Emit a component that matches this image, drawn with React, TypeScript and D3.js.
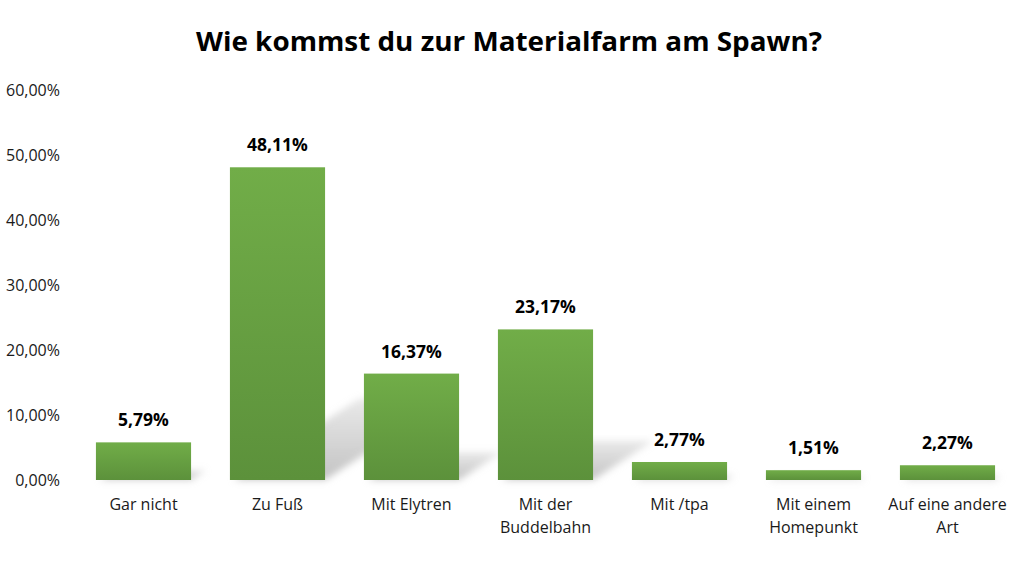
import React from "react";
import * as d3 from "d3";

const categories: string[][] = [
  ["Gar nicht"],
  ["Zu Fuß"],
  ["Mit Elytren"],
  ["Mit der", "Buddelbahn"],
  ["Mit /tpa"],
  ["Mit einem", "Homepunkt"],
  ["Auf eine andere", "Art"],
];
const values: number[] = [5.79, 48.11, 16.37, 23.17, 2.77, 1.51, 2.27];
const yTicks: number[] = [0, 10, 20, 30, 40, 50, 60];
const title = "Wie kommst du zur Materialfarm am Spawn?";

const W = 1016;
const H = 568;
const FONT = "'Open Sans', 'Noto Sans', sans-serif";

const fmt = (v: number) => v.toFixed(2).replace(".", ",") + "%";

export default function App() {
  const keys = categories.map((c) => c.join(" "));
  const x = d3
    .scaleBand<string>()
    .domain(keys)
    .range([76.5, 1014.5])
    .paddingInner(0.29)
    .paddingOuter(0.145);
  const y = d3.scaleLinear().domain([0, 60]).range([480, 90]);
  const bw = x.bandwidth();
  const base = y(0);

  return (
    <svg
      width={W}
      height={H}
      style={{ position: "absolute", left: 0, top: 0, background: "#fff" }}
      fontFamily={FONT}
    >
      <defs>
        <linearGradient id="barGrad" x1="0" y1="0" x2="0" y2="1">
          <stop offset="0%" stopColor="#71ad48" />
          <stop offset="100%" stopColor="#5c913b" />
        </linearGradient>
        <linearGradient id="shadowGrad" x1="0" y1="1" x2="0" y2="0">
          <stop offset="0%" stopColor="#c0c0c0" stopOpacity={0.95} />
          <stop offset="100%" stopColor="#c0c0c0" stopOpacity={0.35} />
        </linearGradient>
        <filter id="blur" x="-30%" y="-30%" width="160%" height="160%">
          <feGaussianBlur stdDeviation="3.5" />
        </filter>
      </defs>
      <rect x={0} y={0} width={W} height={H} fill="#fff" />
      <text
        x={509}
        y={51}
        textAnchor="middle"
        fontSize={27}
        fontWeight={700}
        fill="#000"
        textLength={626}
        lengthAdjust="spacingAndGlyphs"
      >
        {title}
      </text>

      {yTicks.map((t) => (
        <text
          key={t}
          x={60}
          y={y(t)}
          dy="0.35em"
          textAnchor="end"
          fontSize={16}
          fill="#1a1a1a"
        >
          {t.toFixed(2).replace(".", ",") + "%"}
        </text>
      ))}

      {/* shadows */}
      <g filter="url(#blur)">
        {values.map((v, i) => {
          const x0 = x(keys[i])!;
          const h = base - y(v);
          const dx = h * 0.4;
          const dy = h * 0.26;
          const pts = [
            [x0 + 4, base],
            [x0 + bw, base],
            [x0 + bw + dx, base - dy],
            [x0 + 4 + dx, base - dy],
          ];
          return (
            <polygon
              key={i}
              points={pts.map((p) => p.join(",")).join(" ")}
              fill="url(#shadowGrad)"
            />
          );
        })}
      </g>

      {values.map((v, i) => (
        <rect
          key={i}
          x={x(keys[i])}
          y={y(v)}
          width={bw}
          height={base - y(v)}
          fill="url(#barGrad)"
        />
      ))}

      {values.map((v, i) => (
        <text
          key={i}
          x={x(keys[i])! + bw / 2}
          y={y(v) - 16}
          textAnchor="middle"
          fontSize={17.5}
          fontWeight={700}
          fill="#000"
        >
          {fmt(v)}
        </text>
      ))}

      {categories.map((lines, i) => (
        <text
          key={i}
          x={x(keys[i])! + bw / 2}
          y={510}
          textAnchor="middle"
          fontSize={16}
          fill="#1a1a1a"
        >
          {lines.map((l, j) => (
            <tspan key={j} x={x(keys[i])! + bw / 2} dy={j === 0 ? 0 : 23}>
              {l}
            </tspan>
          ))}
        </text>
      ))}
    </svg>
  );
}
